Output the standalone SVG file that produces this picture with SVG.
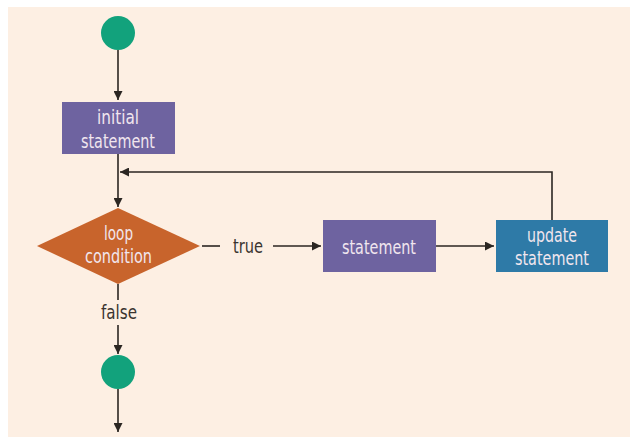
<svg xmlns="http://www.w3.org/2000/svg" width="630" height="437" viewBox="0 0 630 437">
  <defs>
    <marker id="arrow" viewBox="0 0 10 10" refX="10" refY="5" markerWidth="9" markerHeight="9" markerUnits="userSpaceOnUse" orient="auto">
      <path d="M0,0 L10,5 L0,10 Z" fill="#2b2622"/>
    </marker>
    <style>
      .line { stroke: #2b2622; stroke-width: 1.6; fill: none; }
      .label { font-family: "Liberation Sans Narrow", "DejaVu Sans Condensed", "Liberation Sans", sans-serif; font-size: 19px; text-anchor: middle; }
      .in { fill: #f1e6ee; }
      .out { fill: #3a3430; }
      .purple { fill: #6e63a0; }
      .start { fill: #12a27c; }
    </style>
  </defs>

  <rect x="0" y="0" width="630" height="437" fill="#ffffff"/>
  <rect x="8" y="7" width="622" height="430" fill="#fdefe3"/>

  <g id="connectors">
    <line class="line" x1="118" y1="50" x2="118" y2="100" marker-end="url(#arrow)"/>
    <line class="line" x1="118" y1="154" x2="118" y2="207" marker-end="url(#arrow)"/>
    <polyline class="line" points="552,220 552,172 120,172" marker-end="url(#arrow)"/>
    <line class="line" x1="202" y1="246" x2="220" y2="246"/>
    <line class="line" x1="273" y1="246" x2="321" y2="246" marker-end="url(#arrow)"/>
    <line class="line" x1="436" y1="246" x2="494" y2="246" marker-end="url(#arrow)"/>
    <line class="line" x1="118" y1="284" x2="118" y2="300"/>
    <line class="line" x1="118" y1="325" x2="118" y2="354" marker-end="url(#arrow)"/>
    <line class="line" x1="118" y1="389" x2="118" y2="432" marker-end="url(#arrow)"/>
    <text class="label out" x="248" y="253" textLength="30" lengthAdjust="spacingAndGlyphs">true</text>
    <text class="label out" x="119" y="319" textLength="36" lengthAdjust="spacingAndGlyphs">false</text>
  </g>

  <g id="start">
    <circle class="start" cx="118" cy="33" r="17"/>
  </g>

  <g id="initial-statement">
    <rect class="purple" x="62" y="102" width="113" height="52"/>
    <text class="label in" x="118" y="124" textLength="42" lengthAdjust="spacingAndGlyphs">initial</text>
    <text class="label in" x="118" y="148" textLength="74" lengthAdjust="spacingAndGlyphs">statement</text>
  </g>

  <g id="loop-condition">
    <polygon points="118,208 200,246 118,284 37,246" fill="#c8642c"/>
    <text class="label in" x="118.5" y="240" textLength="29" lengthAdjust="spacingAndGlyphs">loop</text>
    <text class="label in" x="118.5" y="263" textLength="67" lengthAdjust="spacingAndGlyphs">condition</text>
  </g>

  <g id="statement">
    <rect class="purple" x="323" y="220" width="113" height="52"/>
    <text class="label in" x="379" y="254" textLength="74" lengthAdjust="spacingAndGlyphs">statement</text>
  </g>

  <g id="update-statement">
    <rect x="496" y="220" width="112" height="52" fill="#2e7aa7"/>
    <text class="label in" x="552" y="242" textLength="50" lengthAdjust="spacingAndGlyphs">update</text>
    <text class="label in" x="552" y="265" textLength="74" lengthAdjust="spacingAndGlyphs">statement</text>
  </g>

  <g id="end">
    <circle class="start" cx="118" cy="372" r="17"/>
  </g>
</svg>
